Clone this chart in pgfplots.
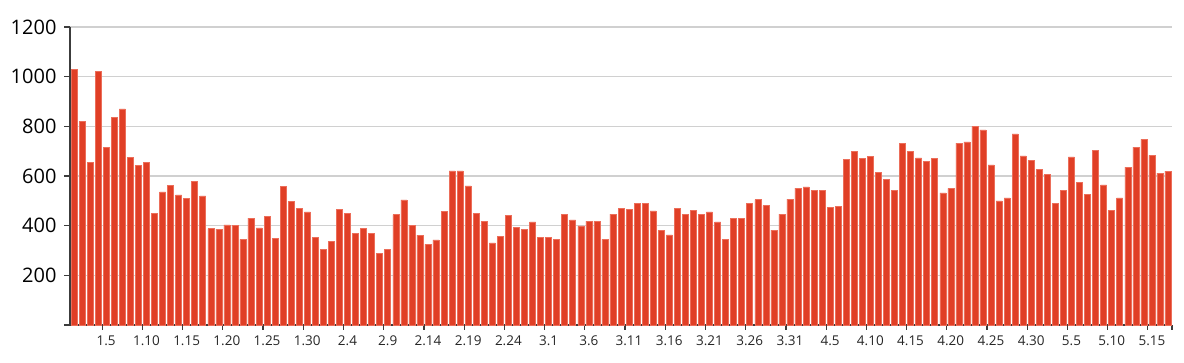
\documentclass[border=0pt]{standalone}
\usepackage{pgfplots}
\usepackage{pgfplotstable}
\pgfplotsset{compat=1.18}
\usepackage{fontspec}
\setmainfont{Open Sans}
\definecolor{barred}{RGB}{224,63,38}
\definecolor{baredge}{RGB}{236,110,90}
\definecolor{gridgray}{RGB}{208,208,208}
\definecolor{axisgray}{RGB}{60,60,60}
\pgfplotstableread{
x y
0 1028
1 820
2 656
3 1021
4 715
5 837
6 870
7 675
8 642
9 656
10 450
11 536
12 562
13 524
14 511
15 579
16 520
17 388
18 386
19 403
20 400
21 345
22 430
23 391
24 437
25 348
26 558
27 497
28 469
29 456
30 353
31 305
32 336
33 466
34 450
35 370
36 390
37 370
38 288
39 304
40 444
41 504
42 402
43 362
44 325
45 343
46 457
47 621
48 621
49 560
50 448
51 417
52 331
53 356
54 440
55 394
56 386
57 415
58 353
59 353
60 345
61 444
62 423
63 399
64 418
65 417
66 345
67 446
68 470
69 465
70 489
71 490
72 460
73 380
74 363
75 469
76 445
77 462
78 446
79 456
80 415
81 345
82 429
83 430
84 489
85 505
86 481
87 382
88 446
89 507
90 551
91 556
92 543
93 543
94 473
95 477
96 668
97 700
98 671
99 679
100 616
101 587
102 542
103 732
104 699
105 673
106 660
107 672
108 532
109 550
110 732
111 737
112 800
113 786
114 645
115 500
116 512
117 770
118 681
119 663
120 628
121 607
122 489
123 542
124 677
125 575
126 526
127 702
128 564
129 462
130 512
131 636
132 716
133 747
134 683
135 612
136 620
}\datatable
\begin{document}
\begin{tikzpicture}[x=1pt,y=1pt]
\useasboundingbox (0,0) rectangle (1184,363);
\begin{axis}[
  at={(70pt,38pt)}, anchor=south west,
  scale only axis,
  width=1102pt, height=298pt,
  xmin=-0.5, xmax=136.5,
  ymin=0, ymax=1200,
  ytick={0,200,...,1200},
  yticklabels={,200,400,600,800,1000,1200},
  ymajorgrids,
  grid style={gridgray, line width=1.3pt},
  axis x line*=bottom,
  axis y line*=left,
  axis line style={axisgray, line width=1.4pt},
  separate axis lines,
  x axis line style={-},
  y axis line style={-},
  tick align=outside,
  major tick length=6pt,
  tick style={axisgray, line width=1.2pt},
  xtick={3.5,8.5,...,133.5},
  xticklabels={1.5,1.10,1.15,1.20,1.25,1.30,2.4,2.9,2.14,2.19,2.24,3.1,3.6,3.11,3.16,3.21,3.26,3.31,4.5,4.10,4.15,4.20,4.25,4.30,5.5,5.10,5.15},
  extra x ticks={136.5},
  extra x tick labels={},
  xtick style={axisgray, line width=1.2pt, /pgfplots/major tick length=5pt},
  xticklabel style={font=\fontsize{13.5}{15}\selectfont, text=black!85, xshift=4.02pt, yshift=-1pt},
  yticklabel style={font=\fontsize{20}{22}\selectfont, text=black, xshift=-4pt},
  /pgf/number format/assume math mode=true,
  clip=false,
]
\addplot[ybar, bar width=6pt, fill=barred, draw=baredge, line width=0.5pt] table[x=x,y=y] {\datatable};
\end{axis}
\end{tikzpicture}
\end{document}
